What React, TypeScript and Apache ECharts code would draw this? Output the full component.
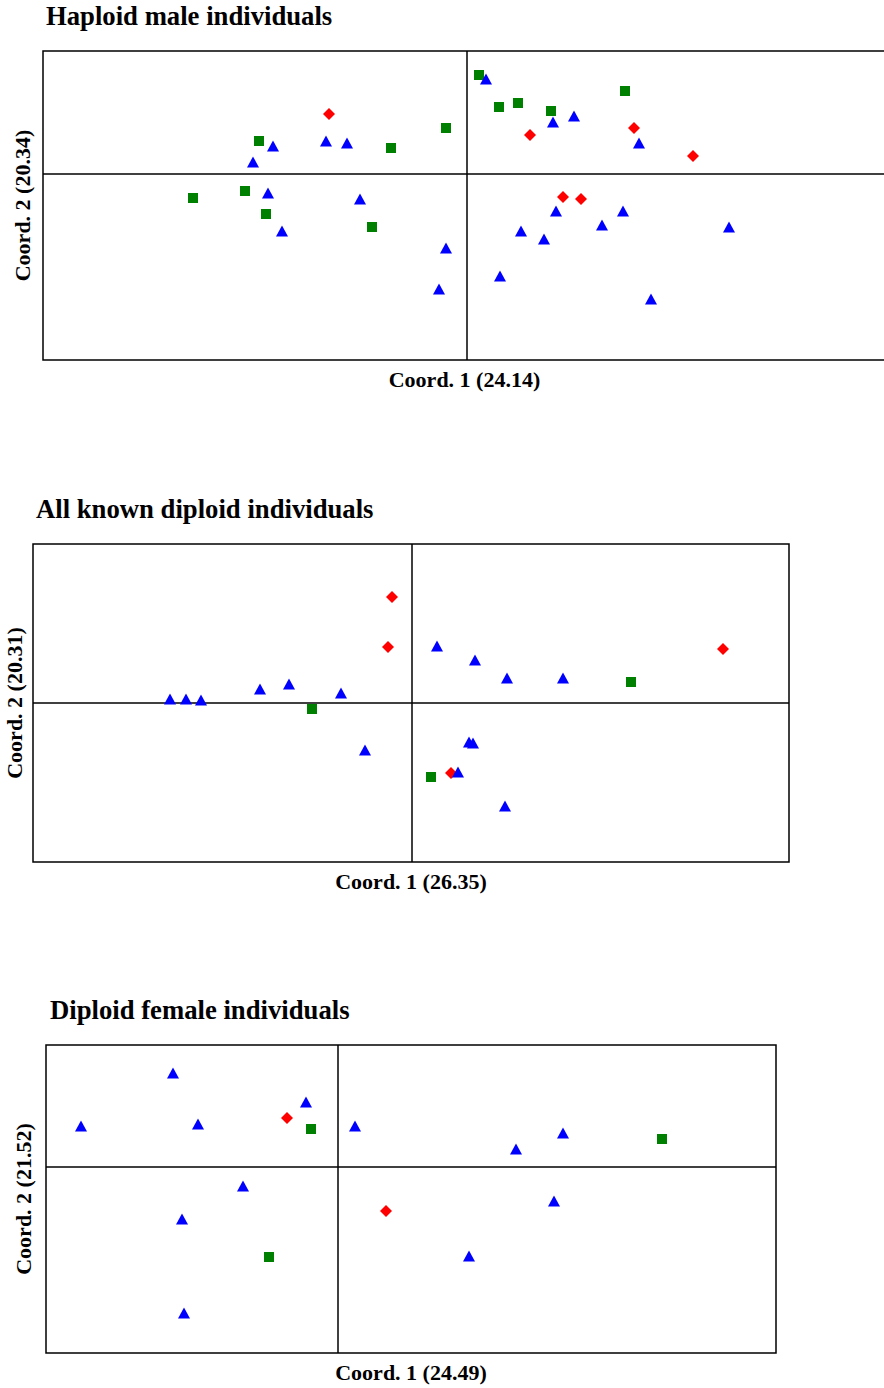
import React, { useEffect, useRef } from "react";
import * as echarts from "echarts";

// ---- Panel titles and axis names ----
const titles = ["Haploid male individuals", "All known diploid individuals", "Diploid female individuals"];
const xNames = ["Coord. 1 (24.14)", "Coord. 1 (26.35)", "Coord. 1 (24.49)"];
const yNames = ["Coord. 2 (20.34)", "Coord. 2 (20.31)", "Coord. 2 (21.52)"];

// ---- Panel 1: Haploid male individuals ----
const p1Green = [
  [-2.08, 0.33], [-0.76, 0.26], [-0.21, 0.46], [-2.22, -0.17], [-2.74, -0.24], [-2.01, -0.40],
  [-0.95, -0.53], [0.12, 0.99], [0.32, 0.67], [0.51, 0.71], [0.84, 0.63], [1.58, 0.83],
];
const p1Red = [
  [-1.38, 0.60], [0.63, 0.39], [1.67, 0.46], [2.26, 0.18], [0.96, -0.23], [1.14, -0.25],
];
const p1Blue = [
  [-1.94, 0.28], [-2.14, 0.12], [-1.41, 0.33], [-1.20, 0.31], [-1.99, -0.19], [-1.85, -0.57],
  [-1.07, -0.25], [-0.21, -0.74], [-0.28, -1.15], [0.19, 0.95], [0.86, 0.52], [1.07, 0.58],
  [1.72, 0.31], [0.89, -0.37], [1.56, -0.37], [0.54, -0.57], [0.77, -0.65], [1.35, -0.51],
  [2.62, -0.53], [0.33, -1.02], [1.84, -1.25],
];

// ---- Panel 2: All known diploid individuals ----
const p2Green = [[-1.00, -0.06], [0.19, -0.74], [2.19, 0.21]];
const p2Red = [[-0.20, 1.06], [-0.24, 0.56], [3.11, 0.54], [0.39, -0.70]];
const p2Blue = [
  [0.25, 0.57], [-2.42, 0.04], [-2.26, 0.04], [-2.11, 0.03], [-1.52, 0.14], [-1.23, 0.19],
  [-0.71, 0.10], [-0.47, -0.47], [0.63, 0.43], [0.95, 0.25], [1.51, 0.25], [0.57, -0.39],
  [0.61, -0.40], [0.46, -0.69], [0.93, -1.03],
];

// ---- Panel 3: Diploid female individuals ----
const p3Green = [[-0.27, 0.38], [-0.69, -0.90], [3.24, 0.28]];
const p3Red = [[-0.51, 0.49], [0.48, -0.44]];
const p3Blue = [
  [-1.65, 0.94], [-2.57, 0.41], [-1.40, 0.43], [-0.32, 0.65], [0.17, 0.41], [-0.95, -0.19],
  [-1.56, -0.52], [-1.54, -1.46], [1.78, 0.18], [2.25, 0.34], [2.16, -0.34], [1.31, -0.89],
];

// ---- Axis extents (data units) ----
const xMin = [-4.24, -3.79, -2.92];
const xMax = [4.19, 3.77, 4.38];
const yMin = [-1.86, -1.59, -1.86];
const yMax = [1.23, 1.59, 1.22];

const greens = [p1Green, p2Green, p3Green];
const reds = [p1Red, p2Red, p3Red];
const blues = [p1Blue, p2Blue, p3Blue];

const FONT = '"Liberation Serif", "Times New Roman", serif';

export default function App() {
  const ref = useRef<HTMLDivElement>(null);
  useEffect(() => {
    document.body.style.margin = "0";
    if (!ref.current) return;
    const chart = echarts.init(ref.current, null, { renderer: "svg" });

    const grids = [
      { left: 43, top: 51, width: 843, height: 309 },
      { left: 33, top: 544, width: 756, height: 318 },
      { left: 46, top: 1045, width: 730, height: 308 },
    ];
    const titlePos = [
      { left: 46, top: 2 },
      { left: 36, top: 495 },
      { left: 50, top: 996 },
    ];
    const yGaps = [10, 8, 12];

    const series: any[] = [];
    for (let i = 0; i < 3; i++) {
      series.push({
        type: "scatter",
        xAxisIndex: i,
        yAxisIndex: i,
        symbol: "rect",
        symbolSize: 10,
        itemStyle: { color: "#008000", opacity: 1 },
        data: greens[i],
        z: 3,
        markLine: {
          silent: true,
          symbol: "none",
          animation: false,
          label: { show: false },
          lineStyle: { color: "#000", type: "solid", width: 1.5, opacity: 1 },
          data: [{ xAxis: 0 }, { yAxis: 0 }],
        },
      });
      series.push({
        type: "scatter",
        xAxisIndex: i,
        yAxisIndex: i,
        symbol: "diamond",
        symbolSize: [12, 12],
        itemStyle: { color: "#FF0000", opacity: 1 },
        data: reds[i],
        z: 4,
      });
      series.push({
        type: "scatter",
        xAxisIndex: i,
        yAxisIndex: i,
        symbol: "triangle",
        symbolSize: [12, 11],
        itemStyle: { color: "#0000FF", opacity: 1 },
        data: blues[i],
        z: 5,
      });
    }

    const option: any = {
      animation: false,
      backgroundColor: "#fff",
      title: titles.map((t, i) => ({
        text: t,
        left: titlePos[i].left,
        top: titlePos[i].top,
        padding: 0,
        textStyle: { fontFamily: FONT, fontSize: 26.7, fontWeight: "bold", color: "#000" },
      })),
      grid: grids.map((g) => ({
        ...g,
        show: true,
        containLabel: false,
        outerBoundsMode: "none",
        borderColor: "#000",
        borderWidth: 1.5,
        backgroundColor: "transparent",
      })),
      xAxis: [0, 1, 2].map((i) => ({
        type: "value",
        gridIndex: i,
        min: xMin[i],
        max: xMax[i],
        axisLine: { show: false },
        axisTick: { show: false },
        axisLabel: { show: false },
        splitLine: { show: false },
        name: xNames[i],
        nameLocation: "middle",
        nameGap: 8,
        nameTextStyle: { fontFamily: FONT, fontSize: 22, fontWeight: "bold", color: "#000", verticalAlign: "top" },
      })),
      yAxis: [0, 1, 2].map((i) => ({
        type: "value",
        gridIndex: i,
        min: yMin[i],
        max: yMax[i],
        axisLine: { show: false },
        axisTick: { show: false },
        axisLabel: { show: false },
        splitLine: { show: false },
        name: yNames[i],
        nameLocation: "middle",
        nameGap: yGaps[i],
        nameTextStyle: { fontFamily: FONT, fontSize: 22, fontWeight: "bold", color: "#000" },
      })),
      series,
    };
    chart.setOption(option);
    return () => chart.dispose();
  }, []);
  return (
    <div
      ref={ref}
      style={{ position: "absolute", left: 0, top: 0, width: 884, height: 1388, background: "#fff" }}
    />
  );
}
